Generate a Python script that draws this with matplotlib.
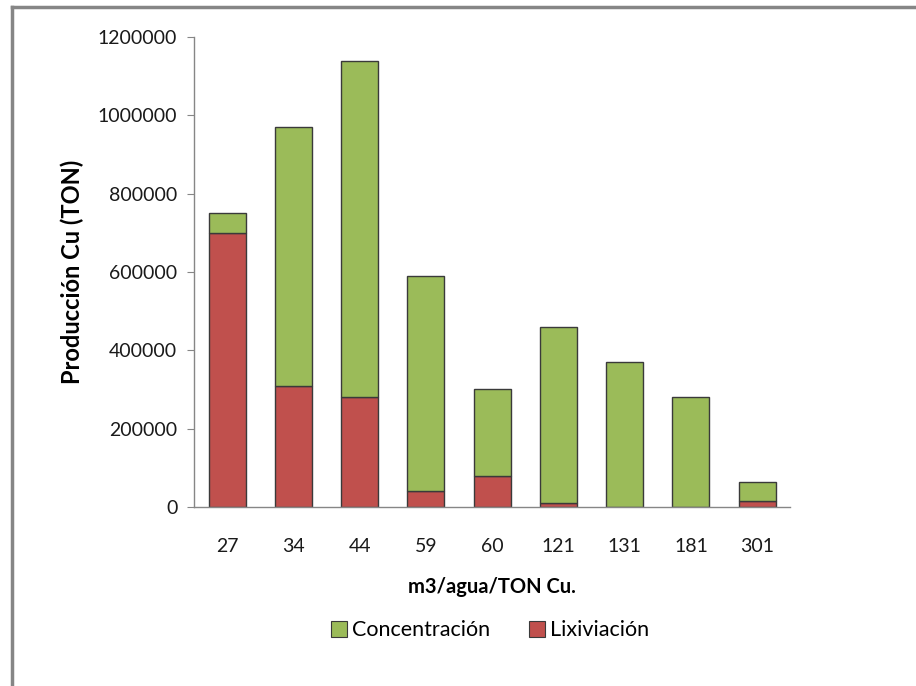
import numpy as np
import matplotlib
matplotlib.use("Agg")
from matplotlib import pyplot as plt
from matplotlib.lines import Line2D
from matplotlib.patches import Patch

# m3 de agua por TON de Cu (categorias del eje x)
categorias = ['27', '34', '44', '59', '60', '121', '131', '181', '301']
# produccion por lixiviacion (parte baja de la barra)
lixiviacion = [700000, 310000, 280000, 40000, 80000, 10000, 0, 0, 15000]
# produccion por concentracion (parte alta de la barra)
concentracion = [50000, 660000, 860000, 550000, 220000, 450000, 370000, 280000, 50000]

verde = '#9BBB59'
rojo = '#C0504D'
gris = '#868686'

plt.rcParams['font.family'] = ['Lato', 'DejaVu Sans']

fig = plt.figure(figsize=(9.16, 6.86), dpi=100)
ax = fig.add_axes([0.2118, 0.261, 0.651, 0.685])

x = np.arange(len(categorias))
ax.bar(x, lixiviacion, width=0.56, color=rojo, edgecolor='#3a3a3a', linewidth=1.0)
ax.bar(x, concentracion, width=0.56, bottom=lixiviacion, color=verde,
       edgecolor='#3a3a3a', linewidth=1.0)

ax.set_xlim(-0.5, len(categorias) - 0.5)
ax.set_ylim(0, 1200000)
ax.set_yticks(np.arange(0, 1200001, 200000))
ax.set_yticklabels([str(v) for v in range(0, 1200001, 200000)])
ax.set_xticks(x)
ax.set_xticklabels(categorias)

for s in ['top', 'right']:
    ax.spines[s].set_visible(False)
for s in ['left', 'bottom']:
    ax.spines[s].set_color(gris)
    ax.spines[s].set_linewidth(1.0)
ax.tick_params(axis='y', length=5, color=gris, labelsize=14, pad=7, labelcolor='#1a1a1a')
ax.tick_params(axis='x', length=0, labelsize=14, pad=22, labelcolor='#1a1a1a')

ax.set_ylabel('Producción Cu (TON)', fontsize=17, fontweight='bold', labelpad=10)
ax.set_xlabel('m3/agua/TON Cu.', fontsize=14.5, fontweight='bold', labelpad=16)

handles = [Patch(facecolor=verde, edgecolor='#3a3a3a', linewidth=0.8),
           Patch(facecolor=rojo, edgecolor='#3a3a3a', linewidth=0.8)]
fig.legend(handles, ['Concentración', 'Lixiviación'], loc='center',
           bbox_to_anchor=(0.535, 0.081), ncol=2, frameon=False, fontsize=15.5,
           handlelength=0.75, handleheight=0.75, handletextpad=0.25, columnspacing=1.8)

# marco gris del grafico (solo arriba e izquierda)
fig.add_artist(Line2D([0.013, 1.0], [0.99, 0.99], transform=fig.transFigure,
                      color=gris, linewidth=2.5))
fig.add_artist(Line2D([0.013, 0.013], [0.0, 0.99], transform=fig.transFigure,
                      color=gris, linewidth=2.5))

fig.savefig('out.png', dpi=100)
